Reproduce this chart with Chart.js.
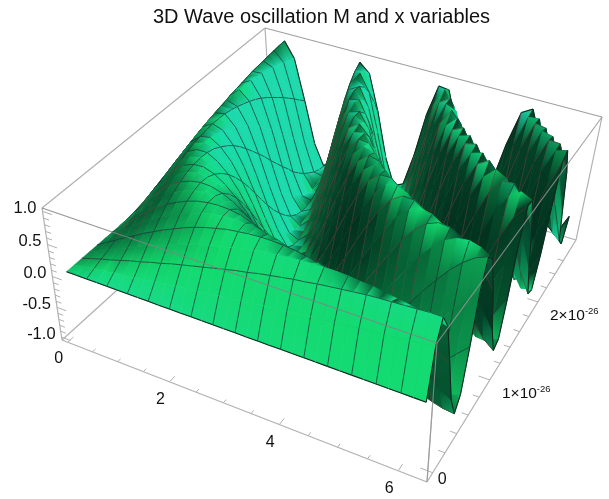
<!DOCTYPE html>
<html><head><meta charset="utf-8">
<style>html,body{margin:0;padding:0;background:#fff}canvas{display:block}</style>
<script src="https://cdn.jsdelivr.net/npm/chart.js@4"></script>
</head><body><canvas id="c" width="609" height="499"></canvas>
<script>
const titleText = "3D Wave oscillation M and x variables";
const xValues = [0,.196,.393,.589,.785,.982,1.178,1.374,1.571,1.767,1.963,2.16,2.356,2.553,2.749,2.945,3.142,3.338,3.534,3.731,3.927,4.123,4.32,4.516,4.712,4.909,5.105,5.301,5.498,5.694,5.89,6.087,6.283];
const mValues = [0,.089,.178,.267,.356,.445,.534,.623,.7125,.80,.89,.98,1.07,1.16,1.25,1.34,1.425,1.51,1.60,1.69,1.78,1.87,1.96,2.05,2.14,2.23,2.31,2.40,2.49,2.58,2.67,2.76,2.85];
const xTicks = [0,2,4,6];
const zTicks = [-1,-.5,0,.5,1];
const mTicks = [0,1,2];
const r00=[0,0,0,0,0,0,0,0,0,0,0,0,0,0,0,0,0,0,0,0,0,0,0,0,0,0,0,0,0,0,0,0,0];
const r01=[0,.02,.05,.07,.10,.12,.14,.17,.19,.21,.24,.26,.28,.31,.33,.35,.37,.40,.42,.44,.46,.48,.50,.52,.54,.56,.58,.60,.62,.64,.66,.68,.69];
const r02=[0,.05,.10,.14,.19,.24,.28,.33,.37,.42,.46,.50,.54,.58,.62,.66,.69,.73,.76,.79,.82,.84,.87,.89,.91,.93,.95,.96,.97,.98,.99,1.0,1.0];
const r03=[0,.07,.14,.21,.28,.35,.42,.48,.54,.60,.66,.71,.76,.80,.84,.88,.91,.94,.96,.98,.99,1.0,1.0,1.0,.99,.97,.96,.93,.90,.87,.83,.79,.75];
const r04=[0,.10,.19,.28,.37,.46,.54,.62,.69,.76,.82,.87,.91,.95,.97,.99,1.0,1.0,.99,.97,.94,.90,.86,.81,.75,.68,.61,.53,.45,.36,.27,.17,.08];
const r05=[0,.12,.24,.35,.46,.56,.66,.74,.82,.88,.93,.97,.99,1.0,.99,.97,.94,.90,.83,.76,.68,.59,.49,.38,.27,.15,.03,-.09,-.21,-.32,-.43,-.54,-.63];
const r06=[0,.14,.28,.42,.54,.66,.76,.84,.91,.96,.99,1.0,.99,.96,.90,.83,.75,.65,.53,.40,.27,.13,-.02,-.16,-.30,-.43,-.56,-.67,-.77,-.85,-.92,-.97,-.99];
const r07=[0,.17,.33,.48,.62,.74,.84,.92,.97,1.0,.99,.96,.90,.82,.72,.59,.45,.29,.13,-.04,-.21,-.37,-.52,-.65,-.77,-.86,-.94,-.98,-1.0,-.99,-.95,-.89,-.80];
const r08=[0,.19,.37,.54,.69,.82,.91,.97,1.0,.99,.94,.86,.75,.61,.45,.27,.08,-.11,-.30,-.48,-.63,-.77,-.88,-.95,-.99,-1.0,-.97,-.90,-.80,-.67,-.52,-.34,-.16];
const r09=[0,.21,.42,.60,.76,.88,.96,1.0,.99,.93,.83,.70,.53,.33,.13,-.09,-.30,-.50,-.67,-.81,-.92,-.98,-1.0,-.97,-.90,-.78,-.63,-.45,-.25,-.04,.18,.38,.57];
const r10=[0,.24,.46,.66,.82,.93,.99,1.0,.94,.83,.68,.49,.27,.03,-.21,-.43,-.63,-.80,-.92,-.99,-1.0,-.95,-.85,-.70,-.52,-.30,-.06,.18,.40,.61,.78,.91,.98];
const r11=[0,.26,.50,.71,.87,.97,1.0,.96,.86,.70,.49,.24,-.02,-.28,-.52,-.72,-.88,-.97,-1.0,-.96,-.85,-.69,-.47,-.23,.03,.29,.53,.73,.89,.98,1.0,.95,.84];
const r12=[0,.28,.54,.76,.91,.99,.99,.90,.75,.53,.27,-.02,-.30,-.56,-.77,-.92,-.99,-.99,-.90,-.74,-.52,-.25,.03,.31,.57,.78,.93,1.0,.98,.89,.73,.50,.24];
const r13=[0,.31,.58,.80,.95,1.0,.96,.82,.61,.33,.03,-.28,-.56,-.78,-.94,-1.0,-.97,-.84,-.63,-.37,-.06,.25,.53,.77,.93,1.0,.97,.86,.66,.39,.09,-.22,-.50];
const r14=[0,.33,.62,.84,.97,1.0,.90,.72,.45,.13,-.21,-.52,-.77,-.94,-1.0,-.95,-.80,-.55,-.25,.08,.40,.68,.89,.99,.98,.87,.66,.37,.05,-.29,-.59,-.82,-.96];
const r15=[0,.35,.66,.88,.99,.97,.83,.59,.27,-.09,-.43,-.72,-.92,-1.0,-.95,-.78,-.52,-.18,.18,.51,.78,.95,1.0,.92,.73,.44,.09,-.26,-.59,-.83,-.97,-.99,-.88];
const r16=[0,.37,.69,.91,1.0,.94,.75,.45,.08,-.30,-.63,-.88,-.99,-.97,-.80,-.52,-.16,.22,.57,.84,.98,.98,.84,.58,.24,-.15,-.51,-.79,-.96,-.99,-.88,-.64,-.31];
const r17=[0,.40,.73,.94,1.0,.90,.65,.29,-.11,-.50,-.80,-.97,-.99,-.84,-.55,-.18,.22,.59,.86,.99,.96,.77,.46,.07,-.33,-.68,-.91,-1.0,-.92,-.70,-.35,.04,.43];
const r18=[0,.42,.76,.96,.99,.83,.53,.13,-.30,-.67,-.92,-1.0,-.90,-.63,-.25,.18,.57,.86,1.0,.95,.73,.37,-.05,-.46,-.79,-.97,-.98,-.81,-.49,-.08,.35,.71,.94];
const r19=[0,.44,.79,.98,.97,.76,.40,-.04,-.48,-.81,-.99,-.96,-.74,-.37,.08,.51,.84,.99,.95,.71,.33,-.12,-.55,-.86,-1.0,-.93,-.68,-.29,.16,.58,.88,1.0,.92];
const r20=[0,.46,.82,.99,.94,.68,.27,-.21,-.63,-.92,-1.0,-.85,-.52,-.06,.40,.78,.98,.96,.73,.33,-.15,-.59,-.89,-1.0,-.88,-.57,-.12,.35,.74,.97,.98,.77,.38];
const r21=[0,.48,.84,1.0,.90,.59,.13,-.37,-.77,-.98,-.95,-.69,-.25,.25,.68,.95,.98,.77,.37,-.12,-.59,-.90,-1.0,-.85,-.49,0,.48,.84,1.0,.91,.59,.13,-.36];
const r22=[0,.50,.87,1.0,.86,.49,-.02,-.52,-.88,-1.0,-.85,-.47,.03,.53,.89,1.0,.84,.46,-.05,-.55,-.89,-1.0,-.83,-.44,.07,.56,.90,1.0,.82,.43,-.08,-.57,-.91];
const r23=[0,.52,.89,1.0,.81,.38,-.16,-.65,-.95,-.97,-.70,-.23,.31,.77,.99,.92,.58,.07,-.46,-.86,-1.0,-.85,-.44,.09,.60,.93,.98,.75,.30,-.25,-.72,-.98,-.95];
const r24=[0,.54,.91,.99,.75,.27,-.30,-.77,-.99,-.90,-.52,.03,.57,.93,.98,.73,.24,-.33,-.79,-1.0,-.88,-.49,.07,.60,.94,.98,.70,.20,-.36,-.81,-1.0,-.87,-.46];
const r25=[0,.56,.93,.97,.68,.15,-.43,-.86,-1.0,-.78,-.30,.29,.78,1.0,.87,.44,-.15,-.68,-.97,-.93,-.57,0,.56,.93,.98,.69,.16,-.43,-.86,-1.0,-.79,-.30,.29];
const r26=[0,.58,.95,.96,.61,.03,-.56,-.94,-.97,-.63,-.06,.53,.93,.97,.66,.09,-.51,-.91,-.98,-.68,-.12,.48,.90,.98,.70,.16,-.45,-.89,-.99,-.72,-.19,.42,.87];
const r27=[0,.60,.96,.93,.53,-.09,-.67,-.98,-.90,-.45,.18,.73,1.0,.86,.37,-.26,-.79,-1.0,-.81,-.29,.35,.84,1.0,.75,.20,-.43,-.89,-.99,-.69,-.12,.51,.92,.97];
const r28=[0,.62,.97,.90,.45,-.21,-.77,-1.0,-.80,-.25,.40,.89,.98,.66,.05,-.59,-.96,-.92,-.49,.16,.74,1.0,.82,.30,-.36,-.86,-.99,-.69,-.09,.55,.95,.94,.53];
const r29=[0,.64,.98,.87,.36,-.32,-.85,-.99,-.67,-.04,.61,.98,.89,.39,-.29,-.83,-.99,-.70,-.08,.58,.97,.91,.43,-.25,-.81,-1.0,-.72,-.12,.55,.96,.92,.46,-.21];
const r30=[0,.66,.99,.83,.27,-.43,-.92,-.95,-.52,.18,.78,1.0,.73,.09,-.59,-.97,-.88,-.35,.35,.88,.98,.59,-.08,-.72,-1.0,-.79,-.19,.51,.95,.92,.44,-.26,-.83];
const r31=[0,.68,1.0,.79,.17,-.54,-.97,-.89,-.34,.38,.91,.95,.50,-.22,-.82,-.99,-.64,.04,.71,1.0,.77,.13,-.57,-.98,-.87,-.30,.42,.92,.94,.46,-.26,-.84,-.98];
const r32=[0,.69,1.0,.75,.08,-.63,-.99,-.80,-.16,.57,.98,.84,.24,-.51,-.96,-.88,-.31,.43,.94,.92,.38,-.36,-.91,-.95,-.46,.29,.87,.97,.53,-.21,-.83,-.98,-.59];
const waveRows=[r00,r01,r02,r03,r04,r05,r06,r07,r08,r09,r10,r11,r12,r13,r14,r15,r16,r17,r18,r19,r20,r21,r22,r23,r24,r25,r26,r27,r28,r29,r30,r31,r32];

// --- view: axis ranges and box corners -> picture coordinates
const xMax=6.283, mMax=2.85, zPad=1.05;
const p=-.121,q=.25,r=-.073,a1=313.3,b1=83.7,a2=279,b2=-154,a3=-23.07,b3=-147.2,x0=62,y0=340;
const raw=(u,v,w)=>{const d=1+p*u+q*v+r*w;return [(x0+a1*u+a2*v+a3*w)/d,(y0+b1*u+b2*v+b3*w)/d];};
const corners=[[0,0,0,62,340],[1,0,0,427,482],[1,1,0,576,240],[0,1,0,null,null],[0,0,1,42,208],[1,0,1,437,343],[1,1,1,602,117],[0,1,1,265,28]];
const resid=corners.map(c=>{const o=raw(c[0],c[1],c[2]);return c[3]===null?[0,0]:[c[3]-o[0],c[4]-o[1]];});
function proj(u,v,w){
  const o=raw(u,v,w);let dx=0,dy=0;
  corners.forEach((c,i)=>{const t=(c[0]?u:1-u)*(c[1]?v:1-v)*(c[2]?w:1-w);dx+=t*resid[i][0];dy+=t*resid[i][1];});
  return {x:o[0]+dx,y:o[1]+dy};
}
const sU=x=>.018+.955*x/xMax, sV=m=>.03+.945*m/mMax, sW=z=>(z+zPad)/(2*zPad);
const P=(x,m,z)=>proj(sU(x),sV(m),sW(z));

// --- shading
const norm=a=>{const l=Math.hypot(...a);return a.map(t=>t/l);};
const L1=norm([.75,-.45,.5]),L2=norm([1,.35,.45]),L3=norm([-.8,.55,.25]);
const HS=.22;
function shade(dzdu,dzdv){
  const n=norm([-dzdu*HS,-dzdv*HS,1]);
  const d=(L)=>Math.max(0,n[0]*L[0]+n[1]*L[1]+n[2]*L[2]);
  const a=d(L1),b=d(L2),c=d(L3),A=Math.pow(a,1.3),C=c*c;
  const R=Math.min(30,2+40*A+18*C),G=Math.min(218,48+400*A+170*C),B=Math.min(172,30+185*A+85*C+45*b*a);
  return {css:`rgb(${R|0},${G|0},${B|0})`,g:G};
}
const N=xValues.length-1,M=mValues.length-1;
const Z=(ii,jj)=>waveRows[jj][ii];
function vertexShade(i,j){
  const a=Math.max(i-1,0),b=Math.min(i+1,N),c=Math.max(j-1,0),d=Math.min(j+1,M);
  return shade((Z(b,j)-Z(a,j))/((xValues[b]-xValues[a])/xMax),(Z(i,d)-Z(i,c))/((mValues[d]-mValues[c])/mMax));
}

// --- datasets, back to front
const datasets=[];
const GREY="#b0b0b0";
function line(pts,color,width){datasets.push({data:pts,showLine:true,borderColor:color,borderWidth:width,pointRadius:0,fill:false,tension:0,clip:false,spanGaps:false});}
const BR=(a,b)=>[proj(...a),proj(...b)];
line(BR([0,0,0],[0,1,0]),GREY,1.2);line(BR([0,1,0],[1,1,0]),GREY,1.2);line(BR([0,1,0],[0,1,1]),GREY,1.2);
line(BR([0,0,1],[0,1,1]),GREY,1.2);line(BR([0,1,1],[1,1,1]),"#a0a0a0",1.2);line(BR([1,1,0],[1,1,1]),GREY,1.2);
line(BR([0,0,0],[1,0,0]),GREY,1.2);line(BR([1,0,0],[1,1,0]),GREY,1.2);line(BR([0,0,0],[0,0,1]),GREY,1.2);line(BR([1,0,0],[1,0,1]),GREY,1.2);
const tick=(a,b)=>line([proj(...a),proj(...b)],GREY,1);
for(let t=0;t<=6;t+=.5){const u=sU(t),major=t%2===0;tick([u,0,0],[u,major?.022:.012,0]);}
for(let t=0;t<=2.8;t+=.2){const v=sV(t),major=Math.abs(t%1)<.01||Math.abs(t%1-1)<.01;tick([1,v,0],[major?.97:.983,v,0]);}
for(let t=-1;t<=1.001;t+=.1){const w=sW(t),major=Math.abs(t*2-Math.round(t*2))<.01;tick([0,0,w],[major?.028:.016,0,w]);}
// surface
const ctx0=document.getElementById('c').getContext('2d');
for(let j=M-1;j>=0;j--){
  for(let i=0;i<N;i++){
    const c00=P(xValues[i],mValues[j],Z(i,j)),c10=P(xValues[i+1],mValues[j],Z(i+1,j)),
          c11=P(xValues[i+1],mValues[j+1],Z(i+1,j+1)),c01=P(xValues[i],mValues[j+1],Z(i,j+1));
    const s00=vertexShade(i,j),s10=vertexShade(i+1,j),s11=vertexShade(i+1,j+1),s01=vertexShade(i,j+1);
    const g=Math.abs(s00.g-s11.g)>=Math.abs(s10.g-s01.g)
      ? ctx0.createLinearGradient(c00.x,c00.y,c11.x+.01,c11.y+.01)
      : ctx0.createLinearGradient(c10.x,c10.y,c01.x+.01,c01.y+.01);
    if(Math.abs(s00.g-s11.g)>=Math.abs(s10.g-s01.g)){g.addColorStop(0,s00.css);g.addColorStop(1,s11.css);}
    else{g.addColorStop(0,s10.css);g.addColorStop(1,s01.css);}
    datasets.push({data:[c00,c10,c11,c01,c00],showLine:true,fill:'shape',backgroundColor:g,borderColor:g,borderWidth:.7,pointRadius:0,tension:0,clip:false});
    const seg=[],gap={x:NaN,y:NaN},avg=(s00.g+s10.g+s11.g+s01.g)/4;
    const mesh=avg<120?"rgba(100,55,55,.65)":"rgba(25,50,50,.85)";
    if((j+1)%2===0&&j+1<M)seg.push(c01,c11,gap);
    if(i%2===0&&i>0)seg.push(c00,c01,gap);
    if(seg.length)datasets.push({data:seg,showLine:true,borderColor:mesh,borderWidth:.85,pointRadius:0,tension:0,clip:false,fill:false});
    const rim=[];
    if(j+1===M)rim.push(c01,c11,gap);
    if(i+1===N)rim.push(c10,c11,gap);
    if(j===0)rim.push(c00,c10,gap);
    if(rim.length)datasets.push({data:rim,showLine:true,borderColor:"#12281f",borderWidth:1.1,pointRadius:0,tension:0,clip:false,fill:false});
  }
}
line(BR([0,0,1],[1,0,1]),"rgba(130,130,130,.85)",1.2);
line(BR([1,0,1],[1,1,1]),"rgba(150,150,150,.85)",1.2);
line(BR([1,0,0],[1,0,1]),"rgba(150,150,150,.8)",1.1);

const FONT="'Liberation Sans', Arial, sans-serif";
const tickLabels={id:'tickLabels',afterDraw(chart){
  const {ctx,scales:{x,y}}=chart;ctx.save();ctx.fillStyle="#111";ctx.textBaseline="middle";
  const at=(p)=>[x.getPixelForValue(p.x),y.getPixelForValue(p.y)];
  ctx.font=`16.5px ${FONT}`;ctx.textAlign="right";
  zTicks.forEach(t=>{const [a,b]=at(proj(0,0,sW(t)));ctx.fillText(t.toFixed(1),a-6,b-3);});
  ctx.font=`16px ${FONT}`;ctx.textAlign="center";
  xTicks.forEach(t=>{const [a,b]=at(proj(sU(t),0,0));ctx.fillText(String(t),a-9,b+(t?18:16));});
  ctx.textAlign="left";
  mTicks.forEach(t=>{const [a,b]=at(proj(1,sV(t),0));
    if(!t){ctx.font=`16px ${FONT}`;ctx.fillText("0",a+5,b+7);return;}
    const s=`${t}×10`;ctx.font=`15.5px ${FONT}`;const tx=a+12,ty=b+14;ctx.fillText(s,tx,ty);
    const w=ctx.measureText(s).width;ctx.font=`9.5px ${FONT}`;ctx.fillText("-26",tx+w,ty-5);});
  ctx.restore();
}};
const padTop=5,titleSize=20,titleH=padTop+titleSize*1.2;
new Chart(document.getElementById('c'),{type:'scatter',data:{datasets:datasets.reverse()},plugins:[tickLabels],options:{
  responsive:false,animation:false,events:[],
  layout:{padding:{left:34,right:0,top:0,bottom:0}},
  scales:{x:{type:'linear',display:false,min:34,max:609},y:{type:'linear',display:false,reverse:true,min:titleH,max:499}},
  plugins:{legend:{display:false},tooltip:{enabled:false},title:{display:true,text:titleText,fullSize:false,color:"#111",font:{family:FONT,size:titleSize,weight:'normal'},padding:{top:padTop,bottom:0}}}
}});
</script></body></html>
